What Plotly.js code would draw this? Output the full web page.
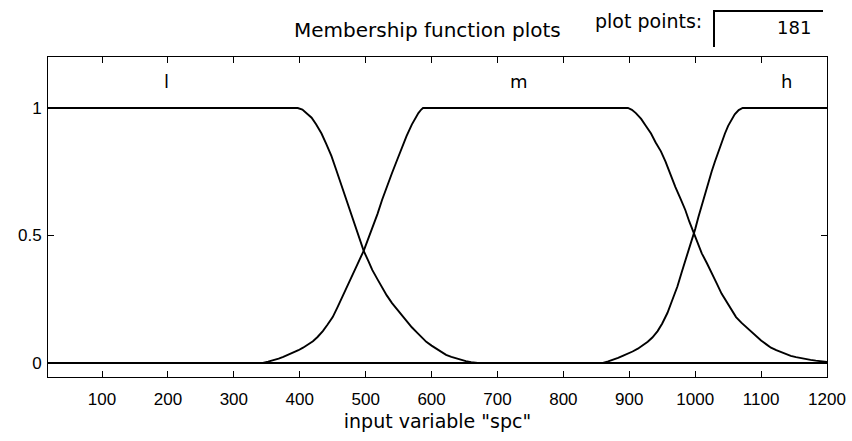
<!DOCTYPE html>
<html>
<head>
<meta charset="utf-8">
<script src="https://cdn.plot.ly/plotly-3.0.1.min.js"></script>
<style>
html,body{margin:0;padding:0;background:#fff;}
#chart{width:852px;height:441px;}
</style>
</head>
<body>
<div id="chart"></div>
<script>
// Membership function "l"
const xL = [18, 397, 404, 410, 418, 425, 433, 440, 448, 455, 462, 470, 478, 485, 491, 497, 504, 510, 518, 525, 532, 540, 548, 555, 562, 570, 578, 585, 592, 600, 608, 615, 622, 630, 638, 645, 652, 660, 670, 1200];
const yL = [1, 1, 0.994, 0.98, 0.962, 0.935, 0.9, 0.86, 0.812, 0.76, 0.707, 0.65, 0.593, 0.54, 0.49, 0.44, 0.4, 0.365, 0.328, 0.295, 0.265, 0.235, 0.209, 0.185, 0.162, 0.14, 0.119, 0.1, 0.083, 0.068, 0.054, 0.042, 0.032, 0.024, 0.017, 0.011, 0.007, 0.003, 0, 0];

// Membership function "m"
const xM = [18, 344, 352, 360, 368, 375, 383, 390, 398, 405, 412, 420, 427, 435, 442, 450, 457, 465, 472, 480, 488, 497, 504, 510, 518, 525, 532, 540, 548, 555, 562, 570, 575, 580, 584, 587,
            898, 904, 910, 918, 925, 933, 940, 948, 955, 962, 970, 978, 985, 991, 998, 1004, 1010, 1018, 1025, 1033, 1040, 1048, 1055, 1062, 1070, 1078, 1085, 1093, 1100, 1108, 1115, 1123, 1130, 1138, 1145, 1153, 1160, 1168, 1175, 1183, 1190, 1200];
const yM = [0, 0, 0.005, 0.01, 0.017, 0.024, 0.032, 0.04, 0.05, 0.06, 0.071, 0.085, 0.102, 0.125, 0.15, 0.18, 0.217, 0.26, 0.301, 0.345, 0.39, 0.44, 0.487, 0.53, 0.585, 0.64, 0.692, 0.745, 0.798, 0.845, 0.89, 0.935, 0.96, 0.98, 0.993, 1,
            1, 0.993, 0.98, 0.957, 0.93, 0.9, 0.865, 0.83, 0.79, 0.742, 0.69, 0.643, 0.6, 0.555, 0.506, 0.468, 0.43, 0.39, 0.35, 0.31, 0.272, 0.237, 0.205, 0.18, 0.158, 0.139, 0.123, 0.105, 0.088, 0.073, 0.06, 0.05, 0.042, 0.034, 0.028, 0.023, 0.019, 0.015, 0.012, 0.009, 0.006, 0.004];

// Membership function "h"
const xH = [18, 860, 868, 875, 883, 890, 898, 905, 913, 920, 928, 935, 943, 950, 958, 965, 973, 980, 985, 990, 995, 1000, 1005, 1010, 1015, 1020, 1025, 1030, 1035, 1040, 1045, 1050, 1055, 1060, 1066, 1072, 1200];
const yH = [0, 0, 0.006, 0.012, 0.02, 0.028, 0.036, 0.045, 0.056, 0.068, 0.083, 0.1, 0.125, 0.155, 0.197, 0.245, 0.3, 0.36, 0.4, 0.44, 0.482, 0.525, 0.573, 0.62, 0.666, 0.71, 0.751, 0.79, 0.829, 0.865, 0.899, 0.93, 0.955, 0.975, 0.992, 1, 1];

const mfNames = ['l', 'm', 'h'];
const mfLabelX = [198, 732, 1138];
const mfLabelY = 1.105;

const xTicks = [100, 200, 300, 400, 500, 600, 700, 800, 900, 1000, 1100, 1200];
const yTicks = [0, 0.5, 1];
const yTickText = ['0', '0.5', '1'];

const titleText = 'Membership function plots';
const plotPointsLabel = 'plot points:';
const plotPointsValue = '181';
const xTitle = 'input variable "spc"';

const lineStyle = {color: '#000', width: 1.9};
const traces = [
  {x: xL, y: yL, mode: 'lines', line: lineStyle, hoverinfo: 'skip'},
  {x: xM, y: yM, mode: 'lines', line: lineStyle, hoverinfo: 'skip'},
  {x: xH, y: yH, mode: 'lines', line: lineStyle, hoverinfo: 'skip'}
];

const W = 852, H = 441, ml = 48, mr = 25, mt = 57, mb = 64;
const pw = W - ml - mr, ph = H - mt - mb;
const px = v => (v - ml) / pw;
const py = v => (H - mb - v) / ph;

const annotations = mfNames.map((n, i) => ({
  x: mfLabelX[i], y: mfLabelY, xref: 'x', yref: 'y', text: n, showarrow: false,
  font: {family: 'DejaVu Sans', size: 18, color: '#000'}
}));
annotations.push({
  x: px(563), y: py(30), xref: 'paper', yref: 'paper', xanchor: 'right', yanchor: 'middle',
  text: titleText, showarrow: false, font: {family: 'DejaVu Sans', size: 20, color: '#000'}
});
annotations.push({
  x: px(593), y: py(21), xref: 'paper', yref: 'paper', xanchor: 'left', yanchor: 'middle',
  text: plotPointsLabel, showarrow: false, font: {family: 'DejaVu Sans', size: 19, color: '#000'}
});
annotations.push({
  x: px(813), y: py(27), xref: 'paper', yref: 'paper', xanchor: 'right', yanchor: 'middle',
  text: plotPointsValue, showarrow: false, font: {family: 'DejaVu Sans', size: 18, color: '#000'}
});

const shapes = [
  {type: 'line', xref: 'paper', yref: 'paper', x0: px(713), x1: px(823), y0: py(11), y1: py(11), line: {color: '#000', width: 2}},
  {type: 'line', xref: 'paper', yref: 'paper', x0: px(714), x1: px(714), y0: py(11), y1: py(47), line: {color: '#000', width: 2}}
];

const tickFont = {family: 'Liberation Sans, Arial, sans-serif', size: 17, color: '#000'};

const layout = {
  width: W, height: H,
  margin: {l: ml, r: mr, t: mt, b: mb, pad: 0},
  paper_bgcolor: '#fff', plot_bgcolor: '#fff',
  showlegend: false,
  xaxis: {
    range: [18, 1200], tickvals: xTicks, ticktext: xTicks.map(String),
    ticks: 'inside', ticklen: 6, tickwidth: 1, tickcolor: '#000',
    showline: true, linecolor: '#000', linewidth: 1, mirror: 'ticks',
    showgrid: false, zeroline: false, tickfont: tickFont, ticklabelstandoff: 7,
    title: {text: xTitle, font: {family: 'DejaVu Sans', size: 19, color: '#000'}, standoff: 6}
  },
  yaxis: {
    range: [-0.055, 1.2], tickvals: yTicks, ticktext: yTickText,
    ticks: 'inside', ticklen: 6, tickwidth: 1, tickcolor: '#000',
    showline: true, linecolor: '#000', linewidth: 1, mirror: 'ticks',
    showgrid: false, zeroline: false, tickfont: tickFont, ticklabelstandoff: 2
  },
  annotations: annotations,
  shapes: shapes
};

Plotly.newPlot('chart', traces, layout, {staticPlot: true, displayModeBar: false});
</script>
</body>
</html>
